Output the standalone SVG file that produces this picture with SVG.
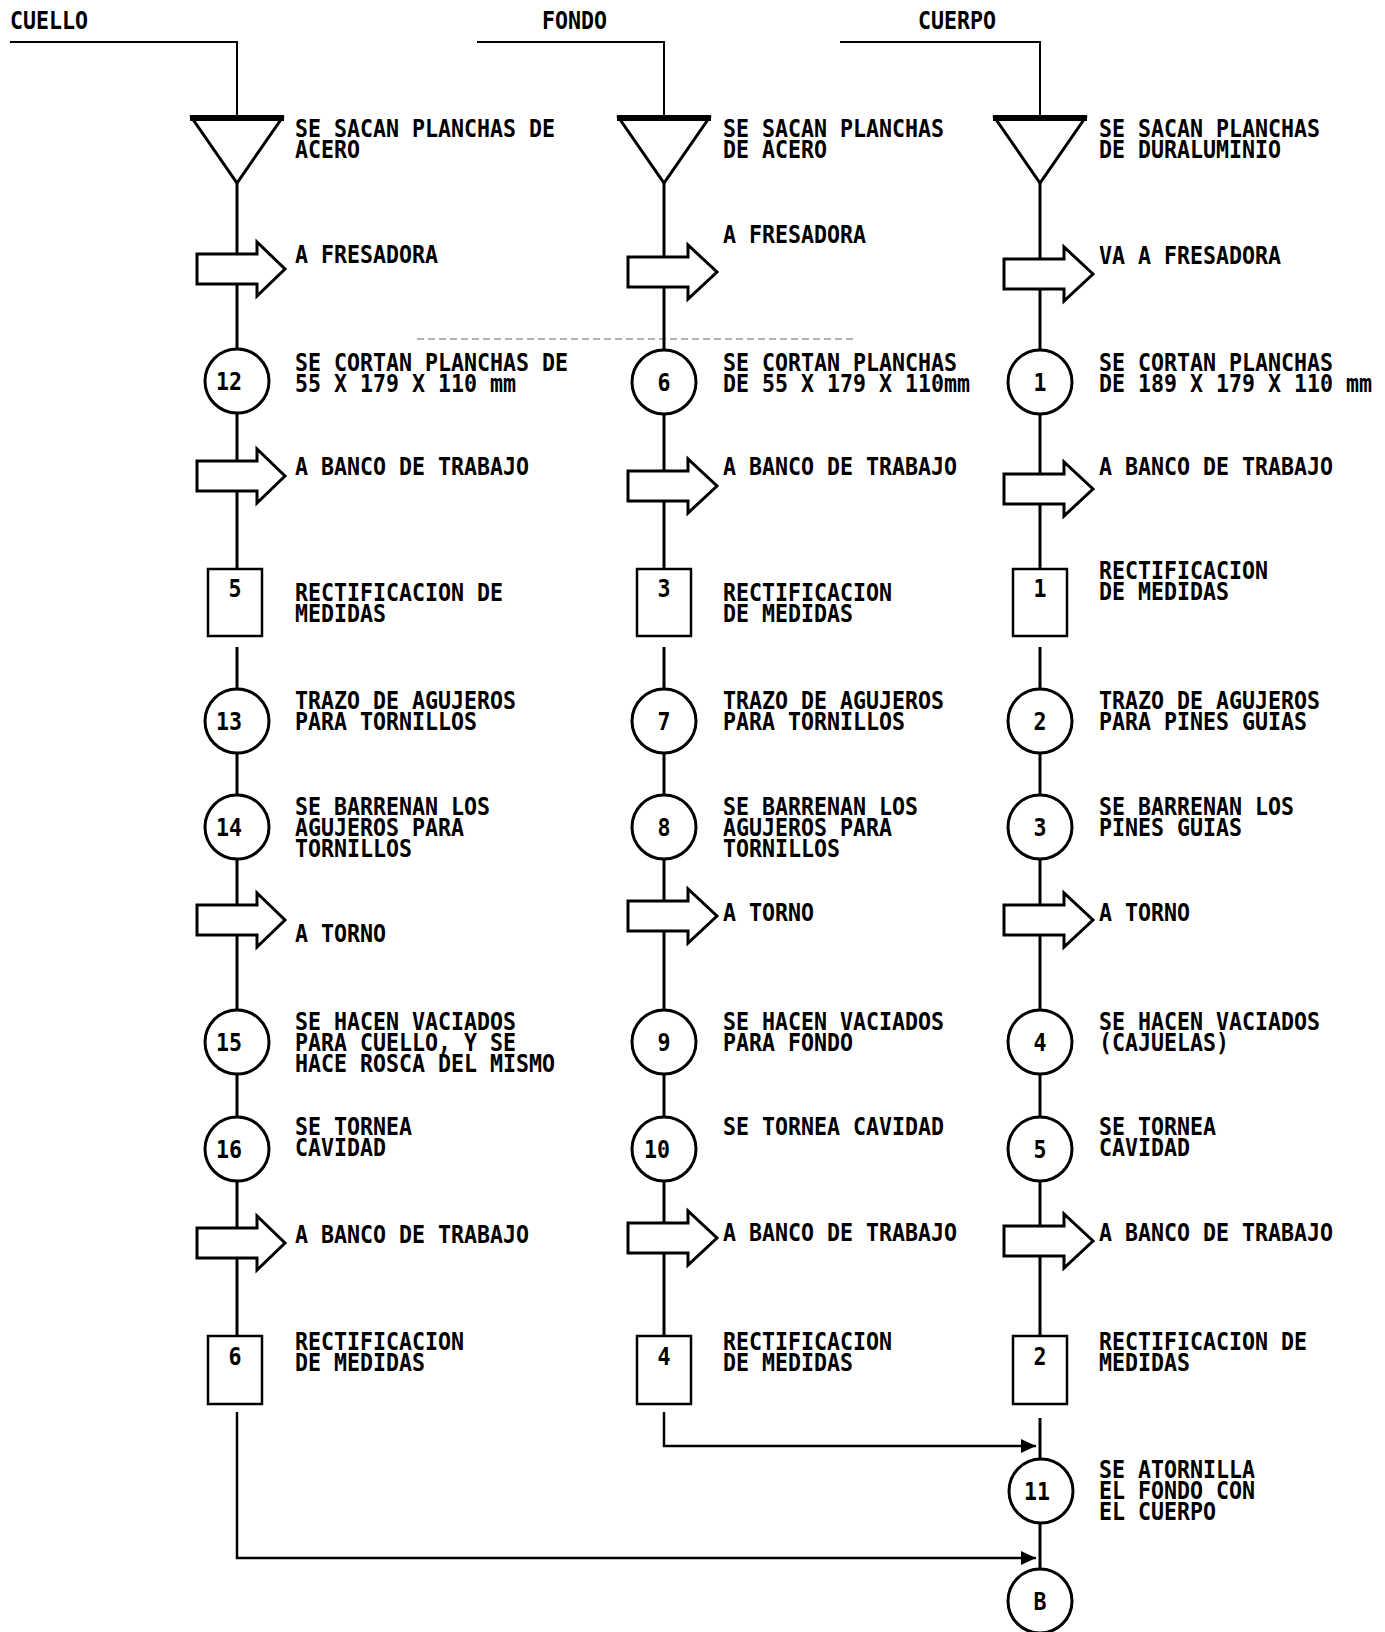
<svg xmlns="http://www.w3.org/2000/svg" width="1385" height="1632" viewBox="0 0 1385 1632">
<defs>
<style>
.t{font-family:"DejaVu Sans Mono","Liberation Mono",monospace;font-size:24px;font-weight:bold;fill:#000}
.c{text-anchor:middle}
.ln{stroke:#000;stroke-width:3;fill:none}
.hd{stroke:#000;stroke-width:2;fill:none}
.cn{stroke:#000;stroke-width:2.5;fill:none}
.circ{fill:#fff;stroke:#000;stroke-width:3}
.box{fill:#fff;stroke:#000;stroke-width:2.5}
.arr{fill:#fff;stroke:#000;stroke-width:3;stroke-linejoin:miter}
.tri{fill:#fff;stroke:#000;stroke-width:3;stroke-linejoin:miter}
.tritop{stroke:#000;stroke-width:6}
.art{stroke:#999;stroke-width:1.5;stroke-dasharray:7 4;fill:none}
</style>
<marker id="ah" markerUnits="userSpaceOnUse" markerWidth="16" markerHeight="16" refX="15" refY="7" orient="auto">
<path d="M0,0 L15,7 L0,14 Z" fill="#000"/>
</marker>
</defs>
<rect width="1385" height="1632" fill="#fff"/>

<g id="headers">
<text class="t" transform="translate(10,29) scale(0.9,1)">CUELLO</text>
<text class="t" transform="translate(542,29) scale(0.9,1)">FONDO</text>
<text class="t" transform="translate(918,29) scale(0.9,1)">CUERPO</text>
</g>

<path class="art" d="M417,339 H855"/>

<g id="connectors">
<path class="hd" d="M10,42 H237 V118"/>
<path class="hd" d="M477,42 H664 V118"/>
<path class="hd" d="M840,42 H1040 V118"/>
<path class="ln" d="M237,183 V569 M237,647 V1336"/>
<path class="ln" d="M664,183 V569 M664,647 V1336"/>
<path class="ln" d="M1040,183 V569 M1040,647 V1336 M1040,1418 V1570"/>
<path class="cn" d="M237,1412 V1558 H1036" marker-end="url(#ah)"/>
<path class="cn" d="M664,1412 V1446 H1036" marker-end="url(#ah)"/>
</g>

<!-- CUELLO column -->
<g id="c_tri"><polygon class="tri" points="192,118 282,118 237,183"/><line class="tritop" x1="190" y1="118" x2="284" y2="118"/>
<text class="t" transform="translate(295,137) scale(0.9,1)">SE SACAN PLANCHAS DE<tspan x="0" dy="21">ACERO</tspan></text></g>
<g id="c_t1"><path class="arr" d="M197,254 H257 V242 L285,269 L257,296 V284 H197 Z"/>
<text class="t" transform="translate(295,263) scale(0.9,1)">A FRESADORA</text></g>
<g id="c_o12"><circle class="circ" cx="237" cy="381" r="32"/><text class="t c" transform="translate(229,390) scale(0.9,1)">12</text>
<text class="t" transform="translate(295,371) scale(0.9,1)">SE CORTAN PLANCHAS DE<tspan x="0" dy="21">55 X 179 X 110 mm</tspan></text></g>
<g id="c_t2"><path class="arr" d="M197,461 H257 V449 L285,476 L257,503 V491 H197 Z"/>
<text class="t" transform="translate(295,475) scale(0.9,1)">A BANCO DE TRABAJO</text></g>
<g id="c_i5"><rect class="box" x="208" y="569" width="54" height="67"/><text class="t c" transform="translate(235,597) scale(0.9,1)">5</text>
<text class="t" transform="translate(295,601) scale(0.9,1)">RECTIFICACION DE<tspan x="0" dy="21">MEDIDAS</tspan></text></g>
<g id="c_o13"><circle class="circ" cx="237" cy="721" r="32"/><text class="t c" transform="translate(229,730) scale(0.9,1)">13</text>
<text class="t" transform="translate(295,709) scale(0.9,1)">TRAZO DE AGUJEROS<tspan x="0" dy="21">PARA TORNILLOS</tspan></text></g>
<g id="c_o14"><circle class="circ" cx="237" cy="827" r="32"/><text class="t c" transform="translate(229,836) scale(0.9,1)">14</text>
<text class="t" transform="translate(295,815) scale(0.9,1)">SE BARRENAN LOS<tspan x="0" dy="21">AGUJEROS PARA</tspan><tspan x="0" dy="21">TORNILLOS</tspan></text></g>
<g id="c_t3"><path class="arr" d="M197,905 H257 V893 L285,920 L257,947 V935 H197 Z"/>
<text class="t" transform="translate(295,942) scale(0.9,1)">A TORNO</text></g>
<g id="c_o15"><circle class="circ" cx="237" cy="1042" r="32"/><text class="t c" transform="translate(229,1051) scale(0.9,1)">15</text>
<text class="t" transform="translate(295,1030) scale(0.9,1)">SE HACEN VACIADOS<tspan x="0" dy="21">PARA CUELLO, Y SE</tspan><tspan x="0" dy="21">HACE ROSCA DEL MISMO</tspan></text></g>
<g id="c_o16"><circle class="circ" cx="237" cy="1149" r="32"/><text class="t c" transform="translate(229,1158) scale(0.9,1)">16</text>
<text class="t" transform="translate(295,1135) scale(0.9,1)">SE TORNEA<tspan x="0" dy="21">CAVIDAD</tspan></text></g>
<g id="c_t4"><path class="arr" d="M197,1228 H257 V1216 L285,1243 L257,1270 V1258 H197 Z"/>
<text class="t" transform="translate(295,1243) scale(0.9,1)">A BANCO DE TRABAJO</text></g>
<g id="c_i6"><rect class="box" x="208" y="1336" width="54" height="68"/><text class="t c" transform="translate(235,1365) scale(0.9,1)">6</text>
<text class="t" transform="translate(295,1350) scale(0.9,1)">RECTIFICACION<tspan x="0" dy="21">DE MEDIDAS</tspan></text></g>

<!-- FONDO column -->
<g id="f_tri"><polygon class="tri" points="619,118 709,118 664,183"/><line class="tritop" x1="617" y1="118" x2="711" y2="118"/>
<text class="t" transform="translate(723,137) scale(0.9,1)">SE SACAN PLANCHAS<tspan x="0" dy="21">DE ACERO</tspan></text></g>
<g id="f_t1"><path class="arr" d="M628,257 H688 V245 L717,272 L688,299 V287 H628 Z"/>
<text class="t" transform="translate(723,243) scale(0.9,1)">A FRESADORA</text></g>
<g id="f_o6"><circle class="circ" cx="664" cy="382" r="32"/><text class="t c" transform="translate(664,391) scale(0.9,1)">6</text>
<text class="t" transform="translate(723,371) scale(0.9,1)">SE CORTAN PLANCHAS<tspan x="0" dy="21">DE 55 X 179 X 110mm</tspan></text></g>
<g id="f_t2"><path class="arr" d="M628,471 H688 V459 L717,486 L688,513 V501 H628 Z"/>
<text class="t" transform="translate(723,475) scale(0.9,1)">A BANCO DE TRABAJO</text></g>
<g id="f_i3"><rect class="box" x="637" y="569" width="54" height="67"/><text class="t c" transform="translate(664,597) scale(0.9,1)">3</text>
<text class="t" transform="translate(723,601) scale(0.9,1)">RECTIFICACION<tspan x="0" dy="21">DE MEDIDAS</tspan></text></g>
<g id="f_o7"><circle class="circ" cx="664" cy="721" r="32"/><text class="t c" transform="translate(664,730) scale(0.9,1)">7</text>
<text class="t" transform="translate(723,709) scale(0.9,1)">TRAZO DE AGUJEROS<tspan x="0" dy="21">PARA TORNILLOS</tspan></text></g>
<g id="f_o8"><circle class="circ" cx="664" cy="827" r="32"/><text class="t c" transform="translate(664,836) scale(0.9,1)">8</text>
<text class="t" transform="translate(723,815) scale(0.9,1)">SE BARRENAN LOS<tspan x="0" dy="21">AGUJEROS PARA</tspan><tspan x="0" dy="21">TORNILLOS</tspan></text></g>
<g id="f_t3"><path class="arr" d="M628,901 H688 V889 L717,916 L688,943 V931 H628 Z"/>
<text class="t" transform="translate(723,921) scale(0.9,1)">A TORNO</text></g>
<g id="f_o9"><circle class="circ" cx="664" cy="1042" r="32"/><text class="t c" transform="translate(664,1051) scale(0.9,1)">9</text>
<text class="t" transform="translate(723,1030) scale(0.9,1)">SE HACEN VACIADOS<tspan x="0" dy="21">PARA FONDO</tspan></text></g>
<g id="f_o10"><circle class="circ" cx="664" cy="1149" r="32"/><text class="t c" transform="translate(657,1158) scale(0.9,1)">10</text>
<text class="t" transform="translate(723,1135) scale(0.9,1)">SE TORNEA CAVIDAD</text></g>
<g id="f_t4"><path class="arr" d="M628,1223 H688 V1211 L717,1238 L688,1265 V1253 H628 Z"/>
<text class="t" transform="translate(723,1241) scale(0.9,1)">A BANCO DE TRABAJO</text></g>
<g id="f_i4"><rect class="box" x="637" y="1336" width="54" height="68"/><text class="t c" transform="translate(664,1365) scale(0.9,1)">4</text>
<text class="t" transform="translate(723,1350) scale(0.9,1)">RECTIFICACION<tspan x="0" dy="21">DE MEDIDAS</tspan></text></g>

<!-- CUERPO column -->
<g id="b_tri"><polygon class="tri" points="995,118 1085,118 1040,183"/><line class="tritop" x1="993" y1="118" x2="1087" y2="118"/>
<text class="t" transform="translate(1099,137) scale(0.9,1)">SE SACAN PLANCHAS<tspan x="0" dy="21">DE DURALUMINIO</tspan></text></g>
<g id="b_t1"><path class="arr" d="M1004,259 H1064 V247 L1093,274 L1064,301 V289 H1004 Z"/>
<text class="t" transform="translate(1099,264) scale(0.9,1)">VA A FRESADORA</text></g>
<g id="b_o1"><circle class="circ" cx="1040" cy="382" r="32"/><text class="t c" transform="translate(1040,391) scale(0.9,1)">1</text>
<text class="t" transform="translate(1099,371) scale(0.9,1)">SE CORTAN PLANCHAS<tspan x="0" dy="21">DE 189 X 179 X 110 mm</tspan></text></g>
<g id="b_t2"><path class="arr" d="M1004,474 H1064 V462 L1093,489 L1064,516 V504 H1004 Z"/>
<text class="t" transform="translate(1099,475) scale(0.9,1)">A BANCO DE TRABAJO</text></g>
<g id="b_i1"><rect class="box" x="1013" y="569" width="54" height="67"/><text class="t c" transform="translate(1040,597) scale(0.9,1)">1</text>
<text class="t" transform="translate(1099,579) scale(0.9,1)">RECTIFICACION<tspan x="0" dy="21">DE MEDIDAS</tspan></text></g>
<g id="b_o2"><circle class="circ" cx="1040" cy="721" r="32"/><text class="t c" transform="translate(1040,730) scale(0.9,1)">2</text>
<text class="t" transform="translate(1099,709) scale(0.9,1)">TRAZO DE AGUJEROS<tspan x="0" dy="21">PARA PINES GUIAS</tspan></text></g>
<g id="b_o3"><circle class="circ" cx="1040" cy="827" r="32"/><text class="t c" transform="translate(1040,836) scale(0.9,1)">3</text>
<text class="t" transform="translate(1099,815) scale(0.9,1)">SE BARRENAN LOS<tspan x="0" dy="21">PINES GUIAS</tspan></text></g>
<g id="b_t3"><path class="arr" d="M1004,905 H1064 V893 L1093,920 L1064,947 V935 H1004 Z"/>
<text class="t" transform="translate(1099,921) scale(0.9,1)">A TORNO</text></g>
<g id="b_o4"><circle class="circ" cx="1040" cy="1042" r="32"/><text class="t c" transform="translate(1040,1051) scale(0.9,1)">4</text>
<text class="t" transform="translate(1099,1030) scale(0.9,1)">SE HACEN VACIADOS<tspan x="0" dy="21">(CAJUELAS)</tspan></text></g>
<g id="b_o5"><circle class="circ" cx="1040" cy="1149" r="32"/><text class="t c" transform="translate(1040,1158) scale(0.9,1)">5</text>
<text class="t" transform="translate(1099,1135) scale(0.9,1)">SE TORNEA<tspan x="0" dy="21">CAVIDAD</tspan></text></g>
<g id="b_t4"><path class="arr" d="M1004,1226 H1064 V1214 L1093,1241 L1064,1268 V1256 H1004 Z"/>
<text class="t" transform="translate(1099,1241) scale(0.9,1)">A BANCO DE TRABAJO</text></g>
<g id="b_i2"><rect class="box" x="1013" y="1336" width="54" height="68"/><text class="t c" transform="translate(1040,1365) scale(0.9,1)">2</text>
<text class="t" transform="translate(1099,1350) scale(0.9,1)">RECTIFICACION DE<tspan x="0" dy="21">MEDIDAS</tspan></text></g>
<g id="b_o11"><circle class="circ" cx="1041" cy="1491" r="32"/><text class="t c" transform="translate(1037,1500) scale(0.9,1)">11</text>
<text class="t" transform="translate(1099,1478) scale(0.9,1)">SE ATORNILLA<tspan x="0" dy="21">EL FONDO CON</tspan><tspan x="0" dy="21">EL CUERPO</tspan></text></g>
<g id="b_B"><circle class="circ" cx="1040" cy="1601" r="32"/><text class="t c" transform="translate(1040,1610) scale(0.9,1)">B</text></g>
</svg>
